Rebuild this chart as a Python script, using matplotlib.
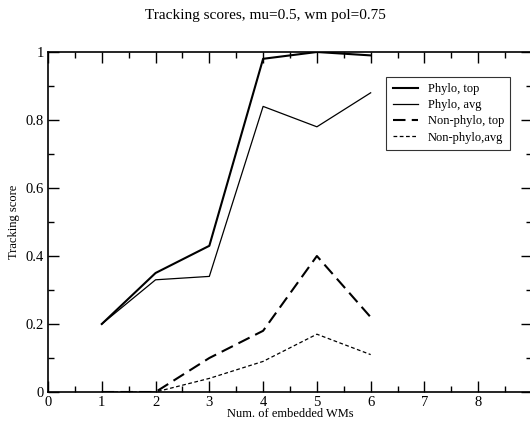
import numpy as np
import matplotlib.pyplot as plt
from matplotlib.ticker import MultipleLocator

plt.rcParams['font.family'] = ['Liberation Serif', 'DejaVu Serif']

xs = [1, 2, 3, 4, 5, 6]
phyloTop = [0.20, 0.35, 0.43, 0.98, 1.00, 0.99]
phyloAvg = [0.20, 0.33, 0.34, 0.84, 0.78, 0.88]
nonPhyloTop = [0.0, 0.0, 0.10, 0.18, 0.40, 0.22]
nonPhyloAvg = [0.0, 0.0, 0.04, 0.09, 0.17, 0.11]
xTicks = [0, 1, 2, 3, 4, 5, 6, 7, 8]
yTicks = [0, 0.2, 0.4, 0.6, 0.8, 1.0]
yTickLabels = ['0', '0.2', '0.4', '0.6', '0.8', '1']

fig = plt.figure(figsize=(5.3, 4.25), dpi=100)
ax = fig.add_axes([48/530., 33/425., 484/530., 340/425.])

ax.plot(xs, phyloTop, color='black', lw=1.5, label='Phylo, top')
ax.plot(xs, phyloAvg, color='black', lw=0.9, label='Phylo, avg')
ax.plot(xs, nonPhyloTop, color='black', lw=1.5, dashes=(6, 3), label='Non-phylo, top')
ax.plot(xs, nonPhyloAvg, color='black', lw=0.9, dashes=(3, 2), label='Non-phylo,avg')

ax.set_xlim(0, 9)
ax.set_ylim(0, 1)
ax.set_xticks(xTicks)
ax.set_xticklabels([str(i) for i in xTicks])
ax.set_yticks(yTicks)
ax.set_yticklabels(yTickLabels)
ax.xaxis.set_minor_locator(MultipleLocator(0.5))
ax.yaxis.set_minor_locator(MultipleLocator(0.1))
ax.tick_params(which='both', direction='in', top=True, right=True, labelsize=10.5)
ax.tick_params(which='major', length=8, width=1, pad=3)
ax.tick_params(which='minor', length=4, width=1)
for s in ax.spines.values():
    s.set_linewidth(1.2)

ax.set_xlabel('Num. of embedded WMs', fontsize=9, labelpad=-1)
ax.set_ylabel('Tracking score', fontsize=9, labelpad=4)
fig.suptitle('Tracking scores, mu=0.5, wm pol=0.75', fontsize=11, y=0.978)

leg = ax.legend(loc='upper left', bbox_to_anchor=(0.686, 0.945), fontsize=9,
                frameon=True, fancybox=False, edgecolor='black', handlelength=2,
                borderpad=0.5, labelspacing=0.33, handletextpad=0.8)
leg.get_frame().set_linewidth(0.8)

fig.savefig('out.png', dpi=100)
